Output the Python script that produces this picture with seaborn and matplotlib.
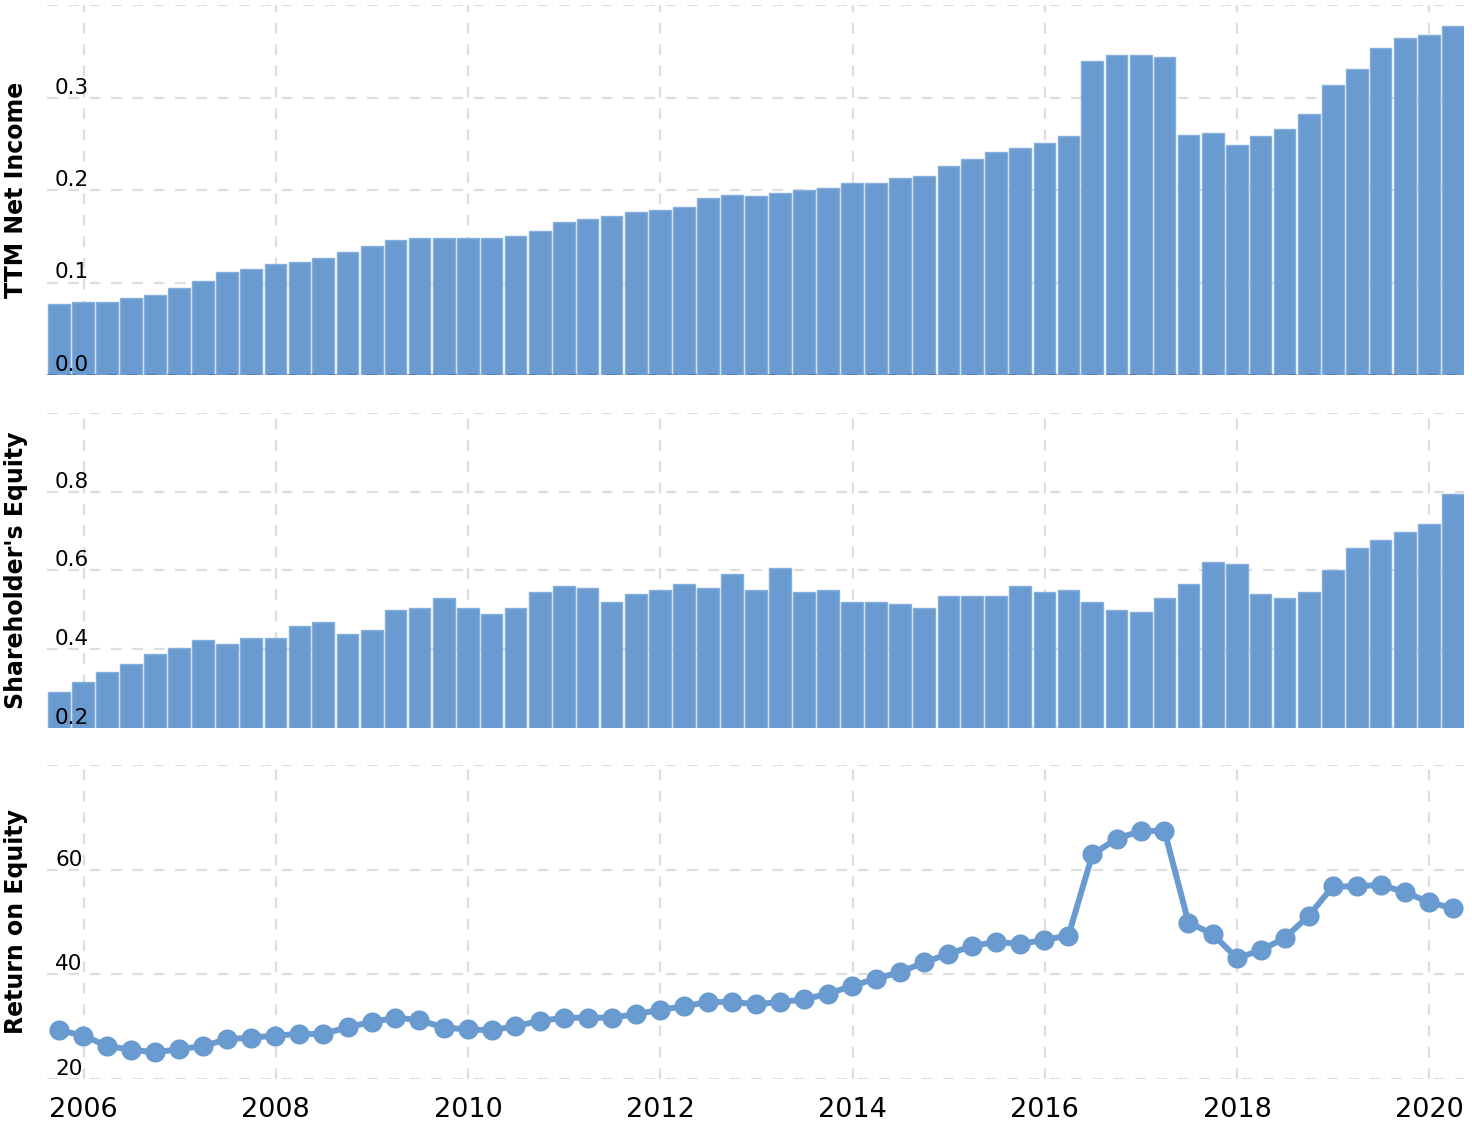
import pandas as pd
import numpy as np
import matplotlib
matplotlib.use('Agg')
import matplotlib.pyplot as plt
import matplotlib.dates as mdates
import seaborn as sns

# quarter-end dates, 2005 Q3 .. 2020 Q1
quarters = pd.period_range('2005Q3', '2020Q1', freq='Q')
dates = quarters.to_timestamp(how='end').normalize()

net_income = [0.077, 0.079, 0.079, 0.083, 0.087, 0.094, 0.102, 0.111, 0.115, 0.120,
              0.122, 0.126, 0.133, 0.139, 0.146, 0.148, 0.148, 0.148, 0.148, 0.150,
              0.156, 0.165, 0.169, 0.172, 0.176, 0.178, 0.182, 0.191, 0.195, 0.193,
              0.197, 0.200, 0.202, 0.208, 0.208, 0.213, 0.215, 0.226, 0.234, 0.241,
              0.245, 0.251, 0.258, 0.340, 0.346, 0.346, 0.344, 0.260, 0.262, 0.249,
              0.258, 0.266, 0.282, 0.314, 0.331, 0.353, 0.364, 0.368, 0.377]

equity = [0.290, 0.316, 0.341, 0.361, 0.387, 0.402, 0.422, 0.412, 0.427, 0.427,
          0.458, 0.468, 0.437, 0.448, 0.498, 0.503, 0.529, 0.503, 0.488, 0.503,
          0.544, 0.559, 0.554, 0.519, 0.539, 0.549, 0.564, 0.554, 0.590, 0.549,
          0.605, 0.544, 0.549, 0.519, 0.519, 0.514, 0.503, 0.534, 0.534, 0.534,
          0.559, 0.544, 0.549, 0.519, 0.498, 0.493, 0.529, 0.564, 0.620, 0.615,
          0.539, 0.529, 0.544, 0.601, 0.656, 0.676, 0.697, 0.717, 0.793]

roe = [29.3, 28.3, 26.3, 25.6, 25.1, 25.7, 26.3, 27.6, 27.9, 28.3,
       28.6, 28.6, 29.9, 30.9, 31.7, 31.3, 29.8, 29.5, 29.3, 30.1,
       31.1, 31.7, 31.7, 31.7, 32.4, 33.2, 33.9, 34.7, 34.7, 34.3,
       34.7, 35.2, 36.3, 37.8, 39.2, 40.4, 42.3, 43.9, 45.4, 46.2,
       45.8, 46.6, 47.4, 62.9, 65.9, 67.4, 67.4, 49.9, 47.7, 43.1,
       44.6, 46.9, 51.2, 56.8, 56.8, 57.1, 55.7, 53.8, 52.6]

year_labels = [str(y) for y in range(2006, 2021, 2)]
year_ticks = pd.to_datetime([f'{y}-01-01' for y in year_labels])

panels = [
    ('TTM Net Income', [0.0, 0.1, 0.2, 0.3, 0.4], ['0.0', '0.1', '0.2', '0.3', '']),
    ("Shareholder's Equity", [0.2, 0.4, 0.6, 0.8, 1.0], ['0.2', '0.4', '0.6', '0.8', '']),
    ('Return on Equity', [20, 40, 60, 80], ['20', '40', '60', '']),
]

BLUE = '#6a9bd0'
GRID = '#dedede'
DASH = (0, (4.8, 4.8))

sns.set_style('white')
plt.rcParams['font.family'] = ['DejaVu Sans']
plt.rcParams['text.color'] = 'black'
plt.rcParams['axes.labelcolor'] = 'black'
plt.rcParams['xtick.color'] = 'black'
plt.rcParams['ytick.color'] = 'black'

fig = plt.figure(figsize=(14.72, 11.24), dpi=100)
W, H = 1472.0, 1124.0
boxes = [(5, 375), (413, 727.5), (765, 1079)]
axes = [fig.add_axes([47 / W, (H - b) / H, 1417 / W, (b - t) / H]) for t, b in boxes]

x = mdates.date2num(dates)
xt = mdates.date2num(year_ticks)
xlim = mdates.date2num(pd.to_datetime(['2005-08-15', '2020-05-12']))

sns.barplot(x=x, y=net_income, native_scale=True, width=0.92, color=BLUE,
            saturation=1, errorbar=None, edgecolor='#86aedb', linewidth=1,
            ax=axes[0], zorder=2)
sns.barplot(x=x, y=equity, native_scale=True, width=0.92, color=BLUE,
            saturation=1, errorbar=None, edgecolor='#86aedb', linewidth=1,
            ax=axes[1], zorder=2)
sns.lineplot(x=x, y=roe, color=BLUE, linewidth=4.3, marker='o', markersize=14.5,
             markeredgewidth=0, ax=axes[2], zorder=2)

for ax, (label, ticks, tlabels) in zip(axes, panels):
    ax.set_axisbelow(False)
    ax.set_xlim(*xlim)
    ax.set_ylim(ticks[0], ticks[-1])
    for v in ticks:
        ax.axhline(v, color=GRID, lw=1.6, ls=DASH, zorder=0)
    for v in xt:
        ax.axvline(v, color=GRID, lw=1.6, ls=DASH, zorder=0)
    ax.set_yticks(ticks)
    ax.set_yticklabels(tlabels, fontsize=15.5, color='black')
    ax.tick_params(axis='y', length=0, pad=-5.8)
    plt.setp(ax.get_yticklabels(), ha='left', va='bottom')
    ax.set_xticks(xt)
    ax.set_xticklabels(year_labels, fontsize=19.5, color='black')
    ax.tick_params(axis='x', length=0, pad=13)
    ax.set_ylabel(label, fontsize=17, fontweight='bold', color='black')
    ax.yaxis.set_label_coords(-0.0134, 0.5)
    ax.set_xlabel('')
    for s in ax.spines.values():
        s.set_visible(False)

for ax in axes[:2]:
    ax.tick_params(axis='x', labelbottom=False)

axes[0].axhline(0, color='#3c3c3c', alpha=0.35, lw=1.5, ls=DASH, zorder=3)

plt.savefig('out.png', dpi=100)
